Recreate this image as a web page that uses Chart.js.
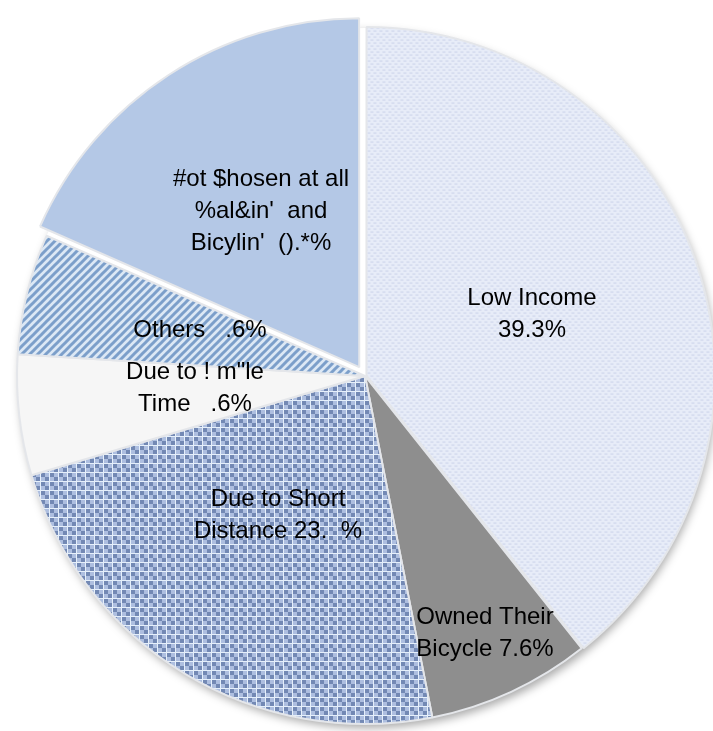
<!DOCTYPE html>
<html>
<head>
<meta charset="utf-8">
<script src="https://cdn.jsdelivr.net/npm/chart.js@4"></script>
<style>
  html, body { margin: 0; padding: 0; background: #fff; }
  canvas { display: block; }
</style>
</head>
<body>
<canvas id="pieChart" width="713" height="731"></canvas>
<script>
{
  // slice order: clockwise from 12 o'clock
  const categories = ['Low Income', 'Owned Their Bicycle', 'Due to Short Distance', 'Due to Ample Time', 'Others', 'Not Chosen at all'];
  const shares = [39.3, 7.6, 23.5, 5.6, 5.6, 18.4];
  // label text exactly as printed on the picture
  const labelLines = [
    ['Low Income', '39.3%'],
    ['Owned Their', 'Bicycle 7.6%'],
    ['Due to Short', 'Distance 23.\u2007%'],
    ['Due to ! m"le', 'Time \u2007.6%'],
    ['Others \u2007.6%'],
    ['#ot $hosen at all', "%al&in'  and", "Bicylin'  ().*%"]
  ];

  // where each label sits, relative to the pie centre
  const labelOffsets = [[167, -62], [120, 257], [-87, 139], [-170, 12], [-165, -46], [-104, -165]];

  const canvas = document.getElementById('pieChart');
  const ctx = canvas.getContext('2d');

  const makeTile = (size, draw) => {
    const c = document.createElement('canvas');
    c.width = size;
    c.height = size;
    draw(c.getContext('2d'), size);
    return ctx.createPattern(c, 'repeat');
  };

  const lowIncomeFill = makeTile(6, (t, s) => {
    t.fillStyle = '#e7ecf8';
    t.fillRect(0, 0, s, s);
    t.fillStyle = '#cbd3ea';
    t.fillRect(0, 1, 3, 1);
    t.fillRect(3, 4, 3, 1);
  });

  const shortFill = makeTile(9, (t, s) => {
    t.fillStyle = '#e6f0fb';
    t.fillRect(0, 0, s, s);
    t.fillStyle = '#7389b4';
    t.fillRect(0, 0, 4, 4);
    t.fillRect(5, 5, 4, 4);
    t.fillStyle = '#aebfe0';
    t.fillRect(5, 0, 4, 4);
    t.fillRect(0, 5, 4, 4);
  });

  const othersFill = makeTile(8, (t, s) => {
    t.fillStyle = '#dce8f5';
    t.fillRect(0, 0, s, s);
    t.strokeStyle = '#7c9fca';
    t.lineWidth = 3;
    t.beginPath();
    t.moveTo(-2, s + 2); t.lineTo(s + 2, -2);
    t.moveTo(-2, 2); t.lineTo(2, -2);
    t.moveTo(s - 2, s + 2); t.lineTo(s + 2, s - 2);
    t.stroke();
  });

  const fills = [lowIncomeFill, '#8e8e8e', shortFill, '#f6f6f6', othersFill, '#b4c8e6'];

  const pieShadow = {
    id: 'pieShadow',
    beforeDatasetsDraw(chart) {
      const arc = chart.getDatasetMeta(0).data[0];
      const c = chart.ctx;
      c.save();
      c.shadowColor = 'rgba(0,0,0,0.35)';
      c.shadowBlur = 10;
      c.shadowOffsetX = 3;
      c.shadowOffsetY = 4;
      c.fillStyle = '#ffffff';
      c.beginPath();
      c.arc(arc.x, arc.y, arc.outerRadius, 0, Math.PI * 2);
      c.fill();
      c.restore();
    }
  };

  const sliceLabels = {
    id: 'sliceLabels',
    afterDatasetsDraw(chart) {
      const arc = chart.getDatasetMeta(0).data[0];
      const c = chart.ctx;
      c.save();
      c.font = '24px "Liberation Sans", Arial, sans-serif';
      c.fillStyle = '#000';
      c.textAlign = 'center';
      c.textBaseline = 'middle';
      const lineH = 32;
      labelLines.forEach((lines, i) => {
        const [dx, dy] = labelOffsets[i];
        const top = arc.y + dy - (lines.length - 1) * lineH / 2;
        lines.forEach((txt, j) => c.fillText(txt, arc.x + dx, top + j * lineH));
      });
      c.restore();
    }
  };

  new Chart(canvas, {
    type: 'pie',
    data: {
      labels: categories,
      datasets: [{
        data: shares,
        backgroundColor: fills,
        borderColor: '#e4e6ea',
        borderWidth: 2,
        offset: [6, 0, 0, 0, 0, 42]
      }]
    },
    options: {
      responsive: false,
      animation: false,
      radius: 348,
      layout: { padding: { left: 17, right: 0, top: 21, bottom: 0 } },
      plugins: {
        legend: { display: false },
        tooltip: { enabled: false }
      }
    },
    plugins: [pieShadow, sliceLabels]
  });
}
</script>
</body>
</html>
